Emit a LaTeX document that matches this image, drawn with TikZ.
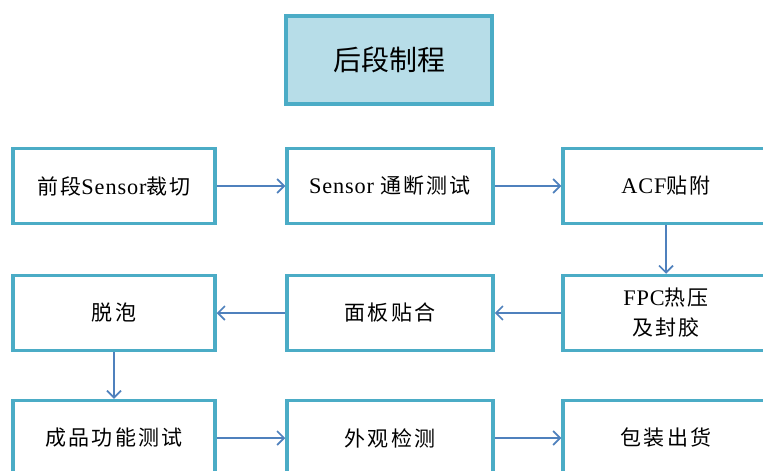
\documentclass[tikz,border=0pt]{standalone}
\usepackage{fontspec}
\setmainfont{Liberation Serif}[LetterSpace=4,Scale=1.06]
\newfontfamily\cjk{Noto Sans CJK SC}[LetterSpace=10]
\newfontfamily\cjktitle{Noto Sans CJK SC}
\usetikzlibrary{arrows.meta}
\definecolor{boxline}{HTML}{4BACC6}
\definecolor{titlefill}{HTML}{B7DDE8}
\definecolor{arrowblue}{HTML}{4F81BD}
\begin{document}
\begin{tikzpicture}[x=1pt,y=-1pt,
  stepbox/.style={draw=boxline, line width=3.5pt, fill=white, rectangle,
    minimum height=75pt, inner sep=0pt, align=center,
    font=\fontsize{21}{30}\selectfont},
  titlebox/.style={draw=boxline, line width=3.5pt, fill=titlefill, rectangle,
    minimum width=206pt, minimum height=88pt, inner sep=0pt,
    font=\fontsize{28}{32}\selectfont\cjktitle},
  flow/.style={draw=arrowblue, line width=1.8pt,
    -{Straight Barb[length=7pt,width=14pt,line width=1.6pt]}}
]
\clip (0,0) rectangle (763,471);
\fill[white] (0,0) rectangle (763,471);

\node[titlebox] (title) at (389,60) {后段制程};

\node[stepbox, minimum width=202pt] (a1) at (114,186) {{\cjk 前段}Sensor{\cjk 裁切}};
\node[stepbox, minimum width=206pt] (a2) at (390,186) {Sensor\ {\cjk 通断测试}};
\node[stepbox, minimum width=206pt] (a3) at (666,186) {ACF{\cjk 贴附}};

\node[stepbox, minimum width=202pt] (b1) at (114,313) {{\cjk 脱泡}};
\node[stepbox, minimum width=206pt] (b2) at (390,313) {{\cjk 面板贴合}};
\node[stepbox, minimum width=206pt] (b3) at (666,313) {FPC{\cjk 热压}\\{\cjk 及封胶}};

\node[stepbox, minimum width=202pt] (c1) at (114,438) {{\cjk 成品功能测试}};
\node[stepbox, minimum width=206pt] (c2) at (390,438) {{\cjk 外观检测}};
\node[stepbox, minimum width=206pt] (c3) at (666,438) {{\cjk 包装出货}};

\draw[flow] (a1.east) -- (a2.west);
\draw[flow] (a2.east) -- (a3.west);
\draw[flow] (a3.south) -- (b3.north);
\draw[flow] (b3.west) -- (b2.east);
\draw[flow] (b2.west) -- (b1.east);
\draw[flow] (b1.south) -- (c1.north);
\draw[flow] (c1.east) -- (c2.west);
\draw[flow] (c2.east) -- (c3.west);
\end{tikzpicture}
\end{document}
